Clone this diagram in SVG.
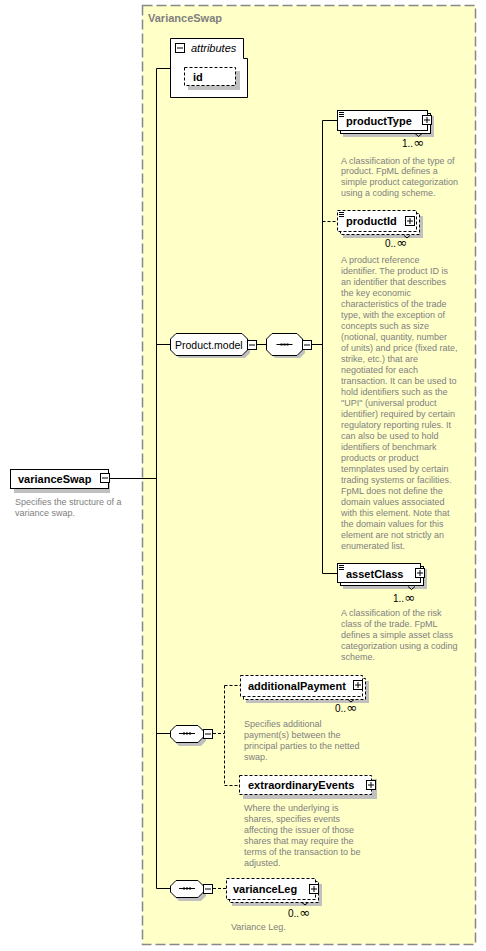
<svg xmlns="http://www.w3.org/2000/svg" xmlns:xlink="http://www.w3.org/1999/xlink" width="486" height="951" viewBox="0 0 486 951">
<style>
.desc{font-family:"Liberation Sans",Arial,sans-serif;font-size:9px;fill:#808080}
.name{font-family:"Liberation Sans",Arial,sans-serif;font-size:11px;font-weight:bold;fill:#000}
.occ{font-family:"Liberation Sans",Arial,sans-serif;font-size:10px;fill:#000}
.inf{font-family:"DejaVu Sans",sans-serif;font-size:13px}
.box{fill:#fff;stroke:#000;stroke-width:1}
.dbox{fill:#fff;stroke:#000;stroke-width:1;stroke-dasharray:3,2}
.sh{fill:#c0c0c0}
.ln{stroke:#000;stroke-width:1;fill:none}
.dln{stroke:#000;stroke-width:1;fill:none;stroke-dasharray:3,2}
</style>
<defs>
<g id="plus"><rect x="0.5" y="0.5" width="9" height="9" fill="#fff" stroke="#000"/><path d="M2 5H8M5 2V8" stroke="#000" stroke-width="1"/></g>
<g id="minus"><rect x="0.5" y="0.5" width="9" height="9" fill="#fff" stroke="#000"/><path d="M2 5H8" stroke="#000" stroke-width="1"/></g>
<g id="icon"><path d="M0 0.5H5M0 2.5H5M0 4.5H5" stroke="#000" stroke-width="1"/></g>
<g id="seqmark"><path d="M0 0.5H16" stroke="#000"/><rect x="4" y="-0.5" width="2" height="2" fill="#000"/><rect x="7" y="-0.5" width="2" height="2" fill="#000"/><rect x="10" y="-0.5" width="2" height="2" fill="#000"/></g>
</defs>
<rect width="486" height="951" fill="#fff"/>
<g id="VarianceSwap-group">
<rect x="142.5" y="5.5" width="333" height="939" fill="#ffffc8" stroke="#888" stroke-width="1.5" stroke-dasharray="10,4"/>
<text x="148" y="22" font-family="Liberation Sans,Arial,sans-serif" font-size="11" font-weight="bold" fill="#808080">VarianceSwap</text>
</g>
<g id="connectors">
<path class="ln" d="M110 478.5H156.5M156.5 68.5V888.5M156.5 68.5H170M156.5 344.5H171M156.5 733.5H171M156.5 888.5H171"/>
<path class="ln" d="M257 344.5H267M312 344.5H322.5M322.5 120.5V573.5M322.5 120.5H337M322.5 573.5H337"/>
<path class="dln" d="M322.5 221.5H337"/>
<path class="dln" d="M213 733.5H224.5M224.5 685.5V785.5M224.5 685.5H240M224.5 785.5H239"/>
<path class="dln" d="M213 888.5H226"/>
</g>
<g id="varianceSwap">
<rect class="sh" x="14" y="473" width="96" height="20"/>
<rect class="box" x="10.5" y="469.5" width="98" height="19"/>
<text class="name" x="18" y="483">varianceSwap</text>
<use xlink:href="#minus" x="100" y="473"/>
<text class="desc" x="15" y="505">Specifies the structure of a</text>
<text class="desc" x="15" y="516">variance swap.</text>
</g>
<g id="attributes">
<path class="box" d="M170.5 38.5H243.5V58.5H247.5V97.5H170.5Z"/>
<use xlink:href="#minus" x="175" y="43"/>
<text x="191" y="52" font-family="Liberation Sans,Arial,sans-serif" font-size="11" font-style="italic" fill="#000">attributes</text>
<rect class="sh" x="188" y="71" width="52" height="19"/>
<rect class="dbox" x="184.5" y="67.5" width="51" height="18"/>
<text class="name" x="193" y="81">id</text>
</g>
<g id="Product.model">
<path class="sh" d="M179 336H245L250 341V353L245 358H179L174 353V341Z"/>
<path class="box" d="M176 333.5H242L247.5 339V350L242 355.5H176L170.5 350V339Z"/>
<text x="175" y="349" font-family="Liberation Sans,Arial,sans-serif" font-size="10.5" fill="#000">Product.model</text>
<use xlink:href="#minus" x="247" y="340"/>
</g>
<g id="sequence1">
<path class="sh" d="M275 336H300L305 341V353L300 358H275L270 353V341Z"/>
<path class="box" d="M272 333.5H297L302.5 339V350L297 355.5H272L266.5 350V339Z"/>
<use xlink:href="#seqmark" x="276.5" y="344"/>
<use xlink:href="#minus" x="302" y="340"/>
</g>
<g id="productType">
<rect class="sh" x="343" y="116" width="91" height="21"/>
<rect class="box" x="340.5" y="113.5" width="90" height="20"/>
<rect class="box" x="337.5" y="110.5" width="90" height="20"/>
<use xlink:href="#icon" x="339" y="112"/>
<text class="name" x="346" y="124.5">productType</text>
<use xlink:href="#plus" x="422" y="115"/>
<path class="ln" d="M415 133.5L418.5 136.5L422 133.5"/>
<text class="occ" x="402" y="147">1..<tspan class="inf">∞</tspan></text>
<text class="desc" x="341" y="163.5">A classification of the type of</text>
<text class="desc" x="341" y="174.3">product. FpML defines a</text>
<text class="desc" x="341" y="185.1">simple product categorization</text>
<text class="desc" x="341" y="195.9">using a coding scheme.</text>
</g>
<g id="productId">
<rect class="sh" x="343" y="216" width="80" height="22"/>
<rect class="dbox" x="340.5" y="213.5" width="79" height="21"/>
<rect class="dbox" x="337.5" y="210.5" width="79" height="21"/>
<use xlink:href="#icon" x="339" y="212"/>
<text class="name" x="346" y="224.5">productId</text>
<use xlink:href="#plus" x="405" y="216"/>
<path class="ln" d="M404 235.5L407 238L410 235.5"/>
<text class="occ" x="385" y="247">0..<tspan class="inf">∞</tspan></text>
<g class="desc">
<text x="341" y="263">A product reference</text>
<text x="341" y="274">identifier. The product ID is</text>
<text x="341" y="285">an identifier that describes</text>
<text x="341" y="296">the key economic</text>
<text x="341" y="307">characteristics of the trade</text>
<text x="341" y="318">type, with the exception of</text>
<text x="341" y="329">concepts such as size</text>
<text x="341" y="340">(notional, quantity, number</text>
<text x="341" y="351">of units) and price (fixed rate,</text>
<text x="341" y="362">strike, etc.) that are</text>
<text x="341" y="373">negotiated for each</text>
<text x="341" y="384">transaction. It can be used to</text>
<text x="341" y="395">hold identifiers such as the</text>
<text x="341" y="406">"UPI" (universal product</text>
<text x="341" y="417">identifier) required by certain</text>
<text x="341" y="428">regulatory reporting rules. It</text>
<text x="341" y="439">can also be used to hold</text>
<text x="341" y="450">identifiers of benchmark</text>
<text x="341" y="461">products or product</text>
<text x="341" y="472">temnplates used by certain</text>
<text x="341" y="483">trading systems or facilities.</text>
<text x="341" y="494">FpML does not define the</text>
<text x="341" y="505">domain values associated</text>
<text x="341" y="516">with this element. Note that</text>
<text x="341" y="527">the domain values for this</text>
<text x="341" y="538">element are not strictly an</text>
<text x="341" y="549">enumerated list.</text>
</g>
</g>
<g id="assetClass">
<rect class="sh" x="343" y="569" width="84" height="20"/>
<rect class="box" x="340.5" y="566.5" width="83" height="19"/>
<rect class="box" x="337.5" y="563.5" width="83" height="19"/>
<use xlink:href="#icon" x="339" y="565"/>
<text class="name" x="346" y="577.5">assetClass</text>
<use xlink:href="#plus" x="415" y="568"/>
<path class="ln" d="M408 586.5L411.5 589.5L415 586.5"/>
<text class="occ" x="393" y="602">1..<tspan class="inf">∞</tspan></text>
<text class="desc" x="341" y="616">A classification of the risk</text>
<text class="desc" x="341" y="627">class of the trade. FpML</text>
<text class="desc" x="341" y="638">defines a simple asset class</text>
<text class="desc" x="341" y="649">categorization using a coding</text>
<text class="desc" x="341" y="660">scheme.</text>
</g>
<g id="sequence2">
<path class="sh" d="M179 728H201L206 733V741L201 746H179L174 741V733Z"/>
<path class="box" d="M176 725.5H198L203.5 731V737L198 742.5H176L170.5 737V731Z"/>
<use xlink:href="#seqmark" x="179" y="733"/>
<use xlink:href="#minus" x="203" y="729"/>
</g>
<g id="additionalPayment">
<rect class="sh" x="246" y="681" width="123" height="22"/>
<rect class="dbox" x="243.5" y="678.5" width="122" height="21"/>
<rect class="dbox" x="240.5" y="675.5" width="122" height="21"/>
<text class="name" x="248" y="690">additionalPayment</text>
<use xlink:href="#plus" x="353" y="680"/>
<path class="ln" d="M348 699.5L351 702L354 699.5"/>
<text class="occ" x="335" y="712">0..<tspan class="inf">∞</tspan></text>
<text class="desc" x="244" y="727">Specifies additional</text>
<text class="desc" x="244" y="738">payment(s) between the</text>
<text class="desc" x="244" y="749">principal parties to the netted</text>
<text class="desc" x="244" y="760">swap.</text>
</g>
<g id="extraordinaryEvents">
<rect class="sh" x="243" y="779" width="134" height="20"/>
<rect class="dbox" x="239.5" y="775.5" width="132" height="19"/>
<text class="name" x="248" y="789">extraordinaryEvents</text>
<use xlink:href="#plus" x="366" y="780"/>
<text class="desc" x="244" y="811">Where the underlying is</text>
<text class="desc" x="244" y="822">shares, specifies events</text>
<text class="desc" x="244" y="833">affecting the issuer of those</text>
<text class="desc" x="244" y="844">shares that may require the</text>
<text class="desc" x="244" y="855">terms of the transaction to be</text>
<text class="desc" x="244" y="866">adjusted.</text>
</g>
<g id="sequence3">
<path class="sh" d="M179 883H201L206 888V896L201 901H179L174 896V888Z"/>
<path class="box" d="M176 880.5H198L203.5 886V892L198 897.5H176L170.5 892V886Z"/>
<use xlink:href="#seqmark" x="179" y="888"/>
<use xlink:href="#minus" x="203" y="884"/>
</g>
<g id="varianceLeg">
<rect class="sh" x="232" y="884" width="90" height="22"/>
<rect class="dbox" x="229.5" y="881.5" width="89" height="21"/>
<rect class="dbox" x="226.5" y="878.5" width="89" height="21"/>
<text class="name" x="233" y="893">varianceLeg</text>
<use xlink:href="#plus" x="309" y="884"/>
<path class="ln" d="M302 902.5L305 905L308 902.5"/>
<text class="occ" x="288" y="917">0..<tspan class="inf">∞</tspan></text>
<text class="desc" x="231" y="930">Variance Leg.</text>
</g>
</svg>
